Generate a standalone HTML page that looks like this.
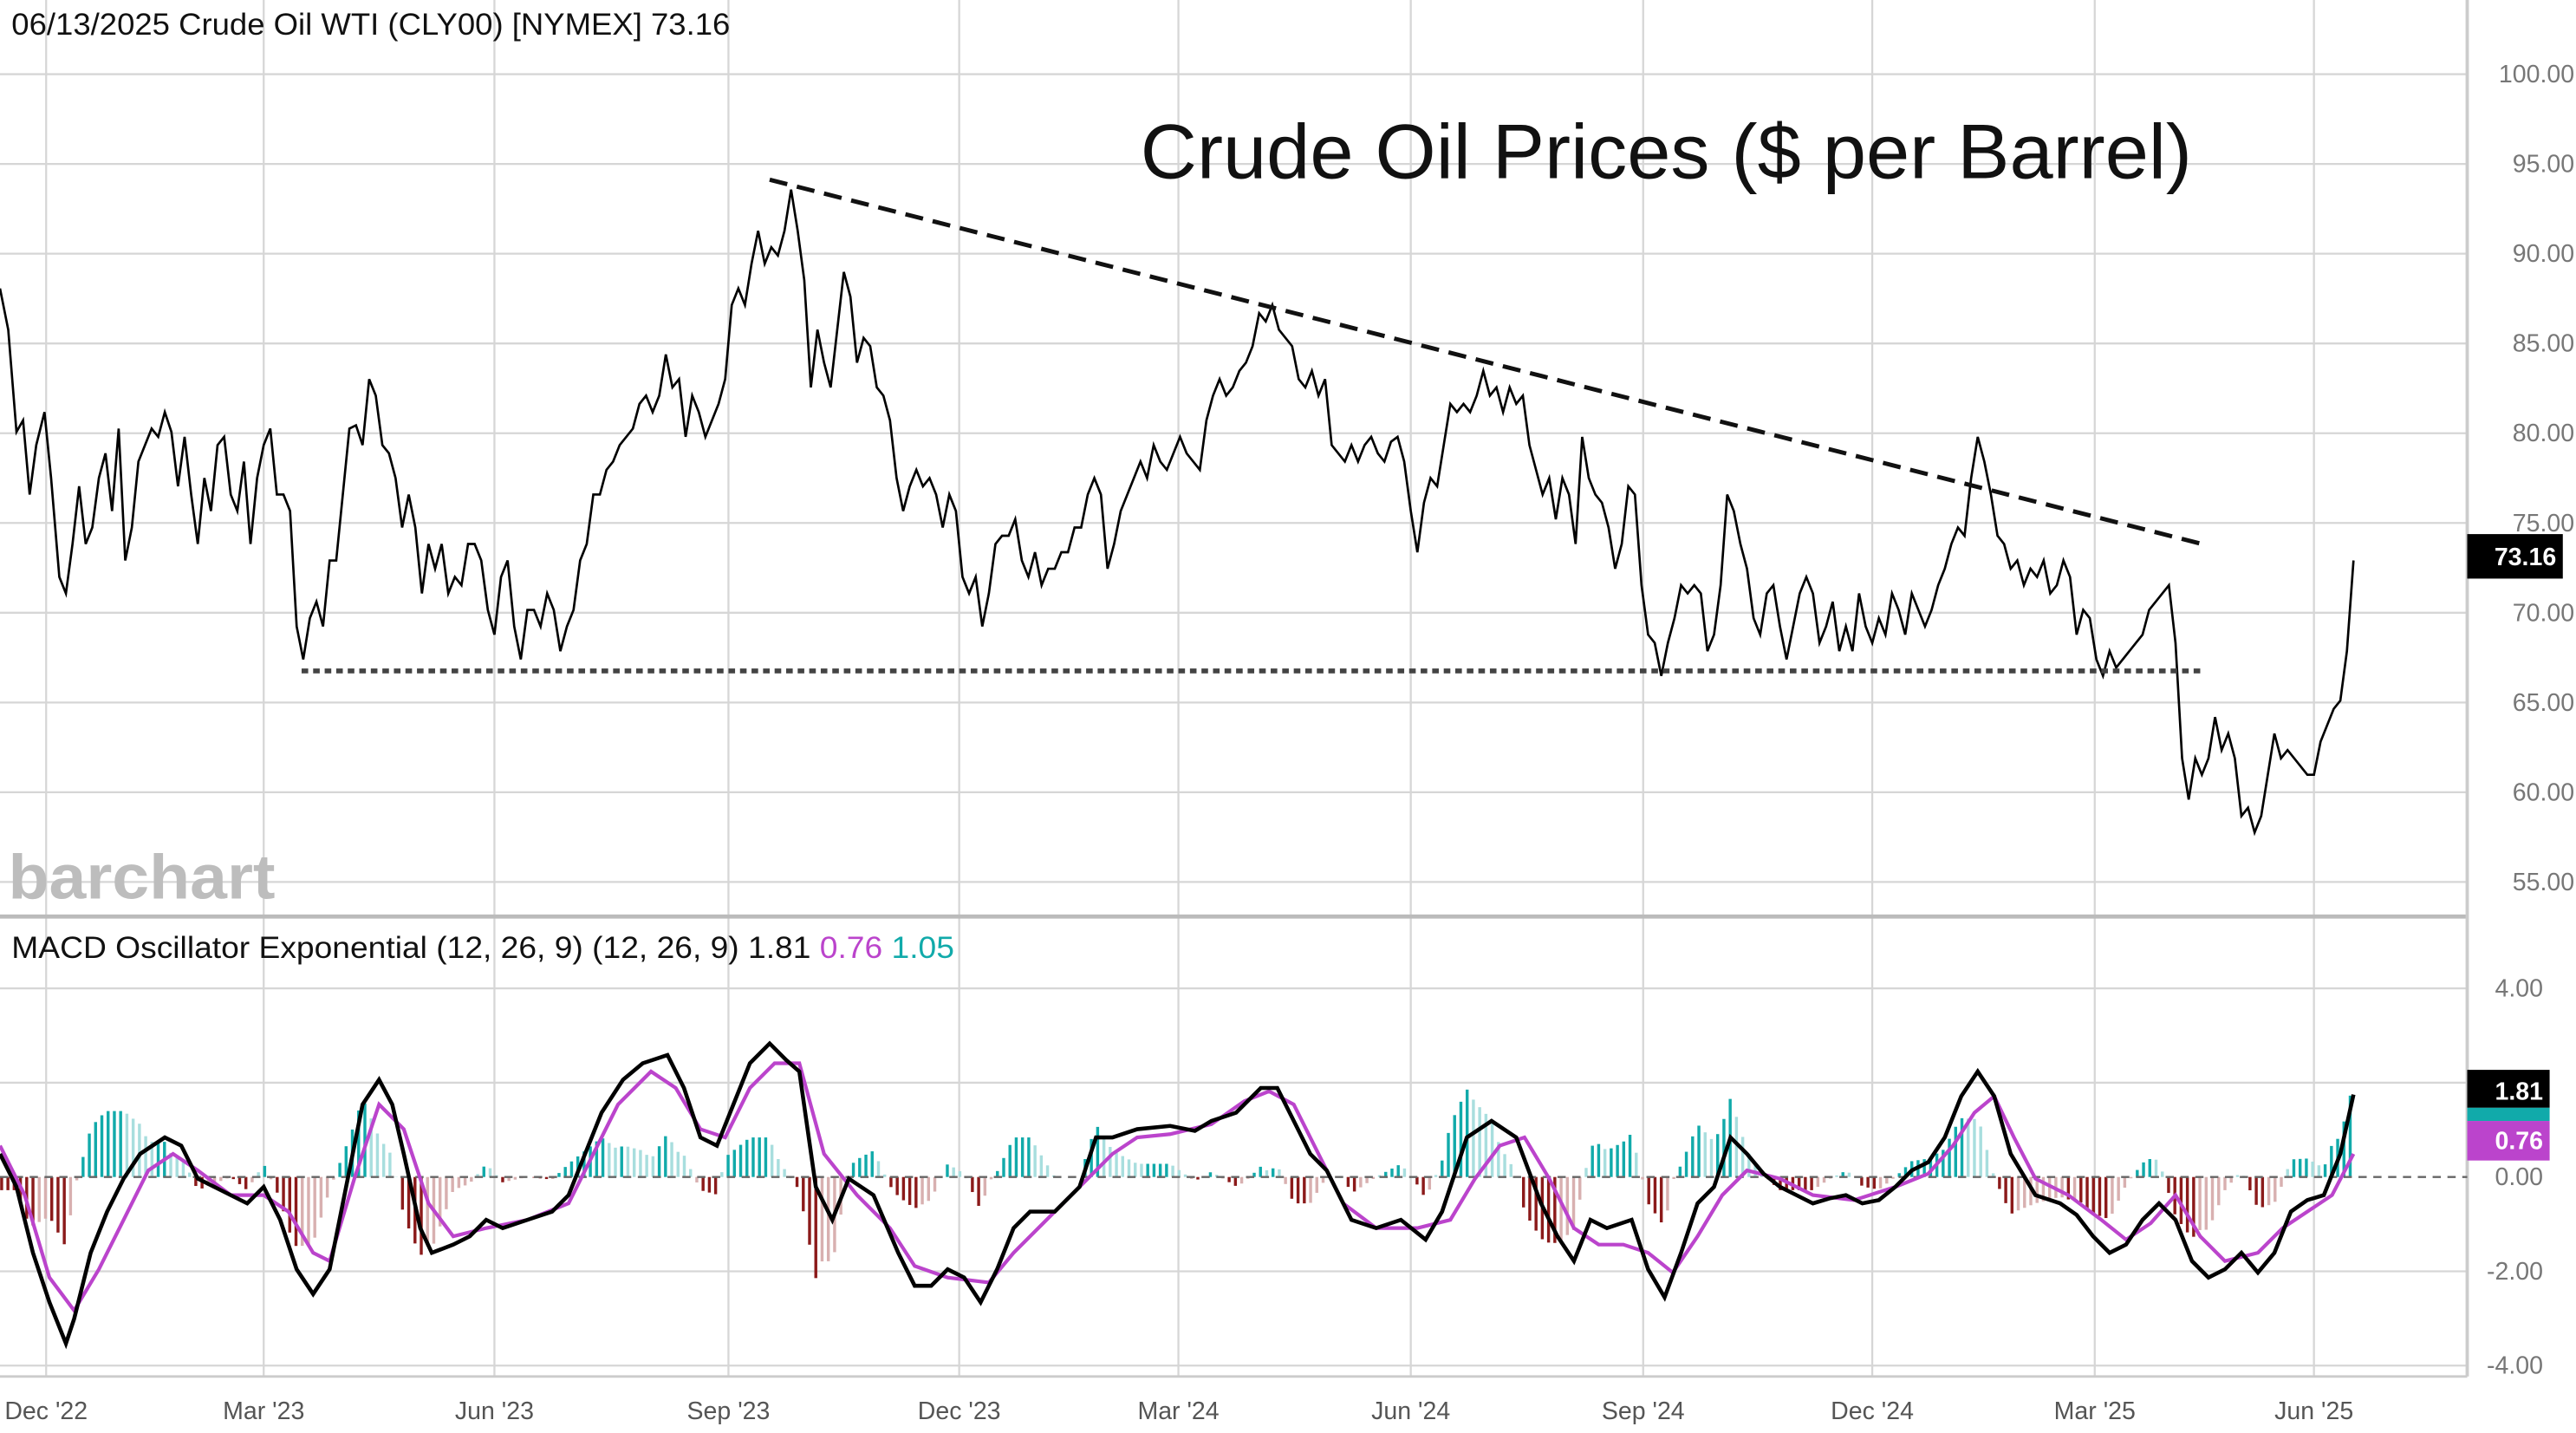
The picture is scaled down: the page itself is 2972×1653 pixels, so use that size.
<!DOCTYPE html>
<html><head><meta charset="utf-8"><style>
html,body{margin:0;padding:0;background:#fff;overflow:hidden}
svg{display:block}
text{font-family:"Liberation Sans",sans-serif}
</style></head><body>
<svg id="s" width="2972" height="1653" viewBox="0 0 1563 869.3" preserveAspectRatio="none" xmlns="http://www.w3.org/2000/svg">
<g id="grid" stroke="#d6d6d6" stroke-width="1.2"></g>
<line x1="0" y1="556" x2="1497" y2="556" stroke="#bbb" stroke-width="2.5"/>
<line x1="1497" y1="0" x2="1497" y2="835" stroke="#ccc" stroke-width="2"/>
<line x1="0" y1="835" x2="1497" y2="835" stroke="#ccc" stroke-width="1.5"/>
<text x="5" y="545" font-size="38" font-weight="bold" fill="#bdbdbd" textLength="162" lengthAdjust="spacingAndGlyphs">barchart</text>
<g id="hist"></g>
<line x1="0" y1="714" x2="1497" y2="714" stroke="#666" stroke-width="1.3" stroke-dasharray="5,4"/>
<path id="price" fill="none" stroke="#000" stroke-width="1.4"/>
<line x1="467" y1="109" x2="1340" y2="331" stroke="#111" stroke-width="2.6" stroke-dasharray="11,6"/>
<line x1="183" y1="407" x2="1338" y2="407" stroke="#444" stroke-width="3" stroke-dasharray="4,3"/>
<path id="sig" fill="none" stroke="#bb44cc" stroke-width="2.2"/>
<path id="macd" fill="none" stroke="#000" stroke-width="2.4"/>
<text x="7" y="21" font-size="18.5" fill="#111" textLength="436" lengthAdjust="spacingAndGlyphs">06/13/2025 Crude Oil WTI (CLY00) [NYMEX] 73.16</text>
<text x="692" y="108" font-size="47" fill="#111" textLength="638" lengthAdjust="spacingAndGlyphs">Crude Oil Prices ($ per Barrel)</text>
<text x="7" y="581" font-size="18.5" fill="#111" textLength="572" lengthAdjust="spacingAndGlyphs">MACD Oscillator Exponential (12, 26, 9)  (12, 26, 9) 1.81 <tspan fill="#bb44cc">0.76</tspan> <tspan fill="#11aaaa">1.05</tspan></text>
<g id="ylab" font-size="15" fill="#777" text-anchor="end"></g>
<g id="xlab" font-size="15" fill="#555" text-anchor="middle"></g>
<rect x="1497" y="324" width="58" height="27" fill="#000"/>
<text x="1551" y="343" font-size="15" font-weight="bold" fill="#fff" text-anchor="end">73.16</text>
<rect x="1497" y="649" width="50" height="23" fill="#000"/>
<rect x="1497" y="672" width="50" height="8" fill="#11aaaa"/>
<rect x="1497" y="680" width="50" height="24" fill="#bb44cc"/>
<text x="1543" y="667" font-size="15" font-weight="bold" fill="#fff" text-anchor="end">1.81</text>
<text x="1543" y="697" font-size="15" font-weight="bold" fill="#fff" text-anchor="end">0.76</text>
</svg>
<script>
var NS="http://www.w3.org/2000/svg";
function el(p,t,a,txt){var e=document.createElementNS(NS,t);for(var k in a)e.setAttribute(k,a[k]);if(txt)e.textContent=txt;document.getElementById(p).appendChild(e);return e;}
var vx=[28,160,300,442,582,715,856,997,1136,1271,1404],vl=["Dec '22","Mar '23","Jun '23","Sep '23","Dec '23","Mar '24","Jun '24","Sep '24","Dec '24","Mar '25","Jun '25"];
vx.forEach(function(x,i){el("grid","line",{x1:x,y1:0,x2:x,y2:835});el("xlab","text",{x:x,y:861},vl[i]);});
for(var p=55;p<=100;p+=5){var y=45+(100-p)*10.89;el("grid","line",{x1:0,y1:y,x2:1497,y2:y});el("ylab","text",{x:1562,y:y+5},p.toFixed(2));}
[4,2,0,-2,-4].forEach(function(m){var y=714-m*28.6;if(m!=0)el("grid","line",{x1:0,y1:y,x2:1497,y2:y});el("ylab","text",{x:1543,y:y+5},m.toFixed(2));});
var P=[0,175,5,200,10,262,14,255,18,300,22,270,27,250,31,290,36,350,40,360,44,330,48,295,52,330,56,320,60,290,64,275,68,310,72,260,76,340,80,320,84,280,88,270,92,260,96,265,100,250,104,262,108,295,112,265,116,300,120,330,124,290,128,310,132,270,136,265,140,300,144,310,148,280,152,330,156,290,160,270,164,260,168,300,172,300,176,310,180,380,184,400,188,375,192,365,196,380,200,340,204,340,208,300,212,260,216,258,220,270,224,230,228,240,232,270,236,275,240,290,244,320,248,300,252,320,256,360,260,330,264,345,268,330,272,360,276,350,280,355,284,330,288,330,292,340,296,370,300,385,304,350,308,340,312,380,316,400,320,370,324,370,328,380,332,360,336,370,340,395,344,380,348,370,352,340,356,330,360,300,364,300,368,285,372,280,376,270,380,265,384,260,388,245,392,240,396,250,400,240,404,215,408,235,412,230,416,265,420,240,424,250,428,265,432,255,436,245,440,230,444,185,448,175,452,185,456,160,460,140,464,160,468,150,472,155,476,140,480,115,484,140,488,170,492,235,496,200,500,220,504,235,508,200,512,165,516,180,520,220,524,205,528,210,532,235,536,240,540,255,544,290,548,310,552,295,556,285,560,295,564,290,568,300,572,320,576,300,580,310,584,350,588,360,592,350,596,380,600,360,604,330,608,325,612,325,616,315,620,340,624,350,628,335,632,355,636,345,640,345,644,335,648,335,652,320,656,320,660,300,664,290,668,300,672,345,676,330,680,310,684,300,688,290,692,280,696,290,700,270,704,280,708,285,712,275,716,265,720,275,724,280,728,285,732,255,736,240,740,230,744,240,748,235,752,225,756,220,760,210,764,190,768,195,772,185,776,200,780,205,784,210,788,230,792,235,796,225,800,240,804,230,808,270,812,275,816,280,820,270,824,280,828,270,832,265,836,275,840,280,844,268,848,265,852,280,856,310,860,335,864,305,868,290,872,295,876,270,880,245,884,250,888,245,892,250,896,240,900,225,904,240,908,235,912,250,916,235,920,245,924,240,928,270,932,285,936,300,940,290,944,315,948,290,952,300,956,330,960,265,964,290,968,300,972,305,976,320,980,345,984,330,988,295,992,300,996,355,1000,385,1004,390,1008,410,1012,390,1016,375,1020,355,1024,360,1028,355,1032,360,1036,395,1040,385,1044,355,1048,300,1052,310,1056,330,1060,345,1064,375,1068,385,1072,360,1076,355,1080,380,1084,400,1088,380,1092,360,1096,350,1100,360,1104,390,1108,380,1112,365,1116,395,1120,380,1124,395,1128,360,1132,380,1136,390,1140,375,1144,385,1148,360,1152,370,1156,385,1160,360,1164,370,1168,380,1172,370,1176,355,1180,345,1184,330,1188,320,1192,325,1196,290,1200,265,1204,280,1208,300,1212,325,1216,330,1220,345,1224,340,1228,355,1232,345,1236,350,1240,340,1244,360,1248,355,1252,340,1256,350,1260,385,1264,370,1268,375,1272,400,1276,410,1280,395,1284,405,1288,400,1292,395,1296,390,1300,385,1304,370,1308,365,1312,360,1316,355,1320,390,1324,460,1328,485,1332,460,1336,470,1340,460,1344,435,1348,455,1352,445,1356,460,1360,495,1364,490,1368,505,1372,495,1376,470,1380,445,1384,460,1388,455,1392,460,1396,465,1400,470,1404,470,1408,450,1412,440,1416,430,1420,425,1424,395,1428,340];
var M=[0,700,10,720,20,760,30,790,40,815,45,800,55,760,65,735,75,715,85,700,100,690,110,695,120,715,130,720,140,725,150,730,160,720,170,740,180,770,190,785,200,770,210,720,220,670,230,655,238,670,245,700,255,745,262,760,275,755,285,750,295,740,305,745,320,740,335,735,345,725,355,700,365,675,378,655,390,645,405,640,415,660,425,690,435,695,445,670,455,645,467,633,477,643,485,650,495,720,505,740,515,715,530,725,545,760,555,780,565,780,575,770,585,775,595,790,605,770,615,745,625,735,640,735,655,720,665,690,675,690,690,685,710,683,725,686,735,680,750,675,765,660,775,660,785,680,795,700,805,710,820,740,835,745,850,740,865,752,875,735,890,690,905,680,920,690,935,730,945,750,955,765,965,740,975,745,990,740,1000,770,1010,787,1020,760,1030,730,1040,720,1050,690,1060,700,1070,712,1080,720,1090,725,1100,730,1110,727,1120,725,1130,730,1140,728,1150,720,1160,710,1170,705,1180,690,1190,665,1200,650,1210,665,1220,700,1235,725,1250,730,1260,737,1270,750,1280,760,1290,755,1300,740,1310,730,1320,740,1330,765,1340,775,1350,770,1360,760,1370,772,1380,760,1390,735,1400,728,1410,725,1420,700,1428,664];
var S=[0,695,15,725,30,775,45,795,60,770,75,740,90,710,105,700,120,710,140,725,160,725,175,735,190,760,200,765,215,715,230,670,245,685,260,730,275,750,295,745,320,740,345,730,360,700,375,670,395,650,410,660,425,685,440,690,455,660,470,645,485,645,500,700,520,725,540,745,555,768,575,775,600,778,615,760,635,740,660,715,675,700,690,690,710,688,735,682,755,668,770,662,785,670,800,700,815,730,835,745,860,745,880,740,895,715,910,695,925,690,940,715,955,745,970,755,985,755,1000,760,1015,772,1030,750,1045,725,1060,710,1080,715,1100,725,1125,728,1150,720,1170,712,1185,695,1198,675,1210,665,1222,690,1235,715,1255,725,1275,740,1290,752,1305,742,1320,725,1335,750,1350,765,1370,760,1385,745,1400,735,1415,725,1428,700];
function path(a){var d="M"+a[0]+","+a[1];for(var i=2;i<a.length;i+=2)d+=" L"+a[i]+","+a[i+1];return d;}
document.getElementById("price").setAttribute("d",path(P));
document.getElementById("macd").setAttribute("d",path(M));
document.getElementById("sig").setAttribute("d",path(S));
function interp(a,x){for(var i=0;i<a.length-2;i+=2){if(x>=a[i]&&x<=a[i+2]){var t=(x-a[i])/(a[i+2]-a[i]);return a[i+1]+t*(a[i+3]-a[i+1]);}}return a[a.length-1];}
var prev=0;
for(var x=1;x<=1428;x+=3.8){var h=(interp(S,x)-interp(M,x))*1.6;var grow=Math.abs(h)>=Math.abs(prev);
var c=h>=0?(grow?"#11aaaa":"#a8dede"):(grow?"#8b1a1a":"#d8b0b0");
el("hist","rect",{x:x-0.9,y:h>=0?714-h:714,width:1.8,height:Math.abs(h),fill:c});prev=h;}
</script>
</body></html>
